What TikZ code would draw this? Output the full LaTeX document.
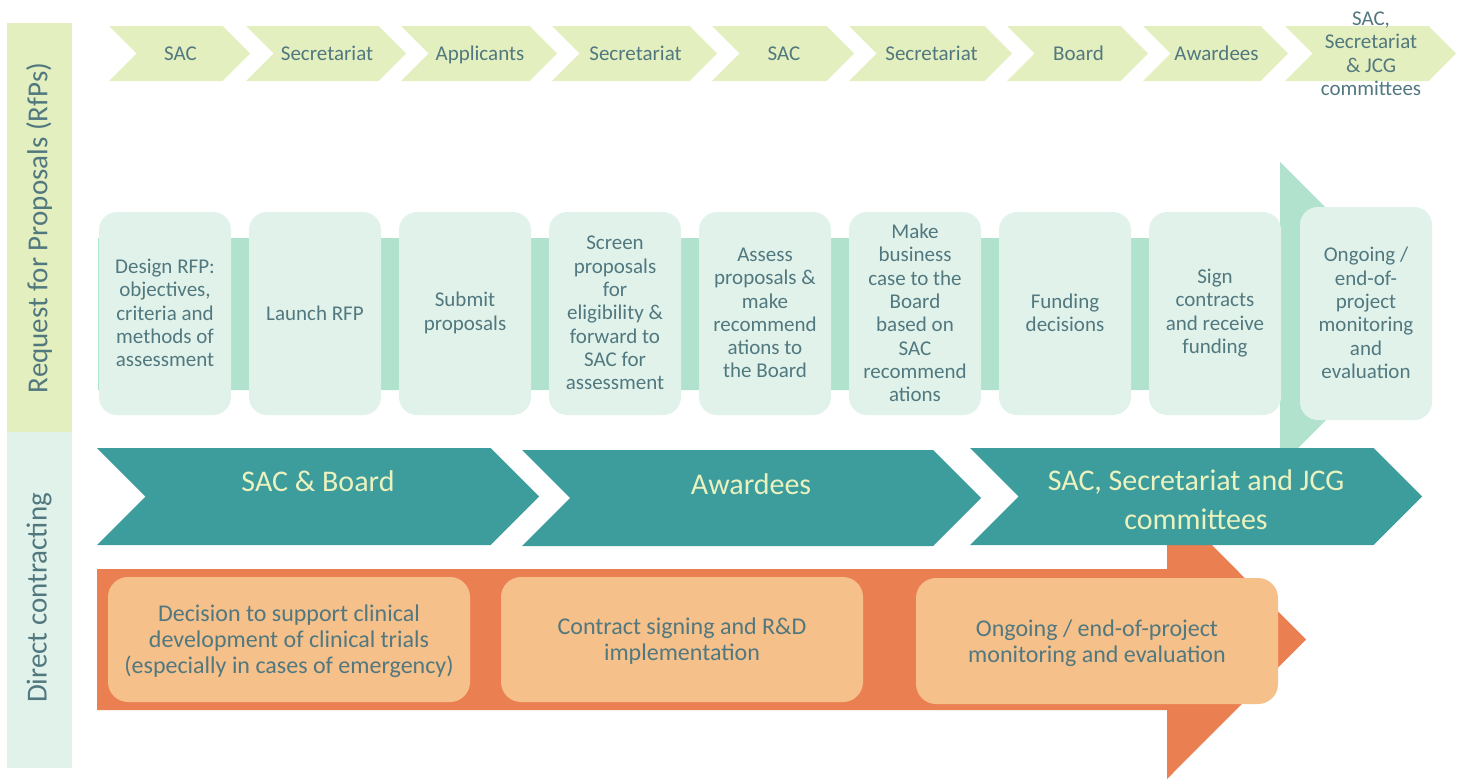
\documentclass[tikz,border=0pt]{standalone}
\usepackage{fontspec}
\setmainfont{Carlito}

\definecolor{slate}{HTML}{52787F}
\definecolor{lime}{HTML}{E3EFBF}
\definecolor{mintpale}{HTML}{E0F2EA}
\definecolor{mint}{HTML}{B1E2CD}
\definecolor{tealband}{HTML}{3D9C9C}
\definecolor{cream}{HTML}{EAF2C0}
\definecolor{orngband}{HTML}{EA7F51}
\definecolor{peach}{HTML}{F5C08A}

\tikzset{
  lbl/.style={text=slate, align=center, inner sep=0pt},
  toplbl/.style={lbl, font=\fontsize{21}{23.5}\selectfont},
  boxlbl/.style={lbl, font=\fontsize{21}{23.3}\selectfont},
  bandlbl/.style={text=cream, align=center, inner sep=0pt, font=\fontsize{30}{39}\selectfont},
  orlbl/.style={lbl, font=\fontsize{24}{26}\selectfont},
  sidelbl/.style={lbl, rotate=90, font=\fontsize{29}{32}\selectfont},
  stepcard/.style={fill=mintpale, rounded corners=18pt},
  orcard/.style={fill=peach, rounded corners=20pt}
}

% chevron: #1 left, #2 tip, #3 top, #4 bottom, #5 colour
\newcommand{\chevron}[5]{%
  \pgfmathsetmacro{\hh}{(#4-#3)/2}
  \fill[#5] (#1,#3) -- ({#2-\hh},#3) -- (#2,{#3+\hh}) -- ({#2-\hh},#4)
    -- (#1,#4) -- ({#1+\hh},{#3+\hh}) -- cycle;
}

\begin{document}
\begin{tikzpicture}[x=1pt, y=-1pt]
\useasboundingbox (0,0) rectangle (1462,779);

% side bars
\fill[lime] (7,23) rectangle (72,432);
\fill[mintpale] (7,432) rectangle (72,768);
\node[sidelbl] (rfp) at (39,228) {Request for Proposals (RfPs)};
\node[sidelbl] (direct) at (39,598) {Direct contracting};

% actors of the RfP route
\foreach \xa/\xb/\who [count=\i] in {109/250/SAC, 246/406/Secretariat, 401/557/Applicants,
    552/717/Secretariat, 712/854/SAC, 849/1012/Secretariat, 1007/1148/Board,
    1143/1288/Awardees, 1285/1456/{}} {
  \chevron{\xa}{\xb}{26}{81}{lime}
  \node[toplbl, anchor=base] (actor\i) at ({(\xa+\xb)/2+1},60) {\who};
}
\node[toplbl] (actor10) at (1371,54) {SAC,\\Secretariat\\\& JCG\\committees};

% big arrow behind the steps
\fill[mint] (98,238) -- (1280,238) -- (1280,162) -- (1432,314) -- (1280,466)
  -- (1280,390) -- (98,390) -- cycle;

\foreach \j in {0,...,7} {
  \fill[stepcard] ({99+150*\j},212) rectangle ({231+150*\j},415);
}
\fill[stepcard] (1300,207) rectangle (1432,420);

\node[boxlbl] (step1) at (165,313) {Design RFP:\\objectives,\\criteria and\\methods of\\assessment};
\node[boxlbl] (step2) at (315,313) {Launch RFP};
\node[boxlbl] (step3) at (465,313) {Submit\\proposals};
\node[boxlbl] (step4) at (615,313) {Screen\\proposals\\for\\eligibility \&\\forward to\\SAC for\\assessment};
\node[boxlbl] (step5) at (765,313) {Assess\\proposals \&\\make\\recommend\\ations to\\the Board};
\node[boxlbl] (step6) at (915,313) {Make\\business\\case to the\\Board\\based on\\SAC\\recommend\\ations};
\node[boxlbl] (step7) at (1065,313) {Funding\\decisions};
\node[boxlbl] (step8) at (1215,313) {Sign\\contracts\\and receive\\funding};
\node[boxlbl] (step9) at (1366,313) {Ongoing /\\end-of-\\project\\monitoring\\and\\evaluation};

% direct contracting arrow
\fill[orngband] (97,569) -- (1167,569) -- (1167,500) -- (1306,639.5) -- (1167,779)
  -- (1167,710) -- (97,710) -- cycle;

% actors of direct contracting
\chevron{97}{539}{448}{545}{tealband}
\chevron{522}{981}{450}{546}{tealband}
\chevron{970}{1422}{448}{545}{tealband}
\node[bandlbl] (band1) at (318,481) {SAC \& Board};
\node[bandlbl] (band2) at (751,484) {Awardees};
\node[bandlbl] (band3) at (1196,500) {SAC, Secretariat and JCG\\committees};

\fill[orcard] (108,577) rectangle (470,702);
\fill[orcard] (501,577) rectangle (863,702);
\fill[orcard] (916,578) rectangle (1278,704);
\node[orlbl] (dc1) at (289,641) {Decision to support clinical\\development of clinical trials\\(especially in cases of emergency)};
\node[orlbl] (dc2) at (682,641) {Contract signing and R\&D\\implementation};
\node[orlbl] (dc3) at (1097,643) {Ongoing / end-of-project\\monitoring and evaluation};
\end{tikzpicture}
\end{document}
